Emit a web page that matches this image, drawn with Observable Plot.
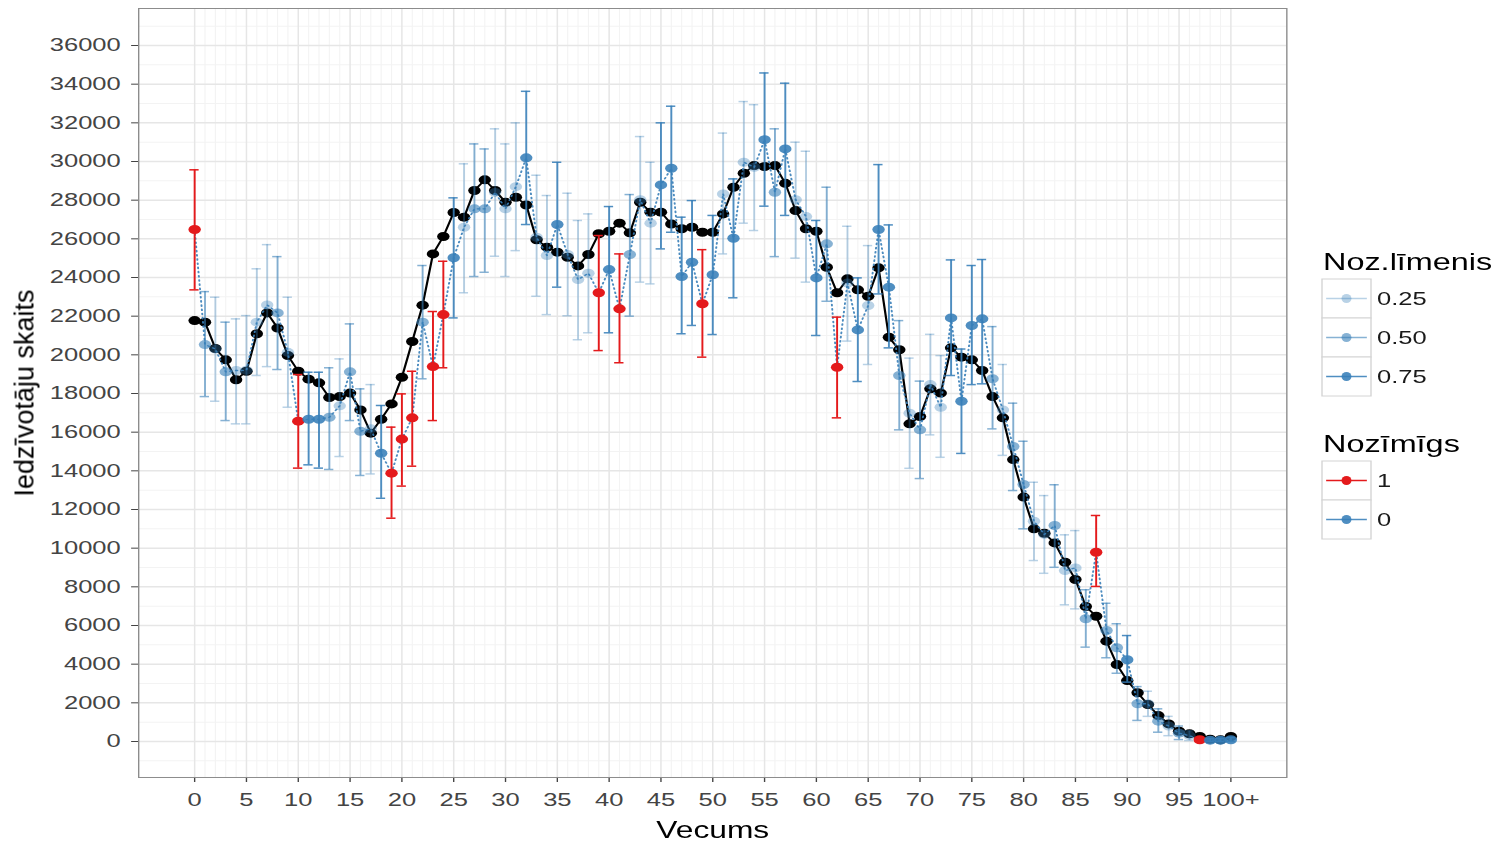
<!DOCTYPE html>
<html>
<head>
<meta charset="utf-8">
<script src="https://cdn.jsdelivr.net/npm/d3@7"></script>
<script src="https://cdn.jsdelivr.net/npm/@observablehq/plot@0.6"></script>
<style>
  html, body { margin: 0; padding: 0; background: white; overflow: hidden; }
  #wrap { position: relative; width: 1509px; height: 844px; }
  #stretch { position: absolute; left: 0; top: 0; height: 844px; transform-origin: 0 0; }
  #ytitle { position: absolute; left: 25px; top: 393px; transform: translate(-50%, -50%) rotate(-90deg);
    font-family: 'Liberation Sans', Arial, sans-serif; font-size: 27px; color: black; white-space: nowrap; }
</style>
</head>
<body>
<div id="wrap">
  <div id="stretch"></div>
  <div id="ytitle">Iedzīvotāju skaits</div>
</div>
<script>
// ---- data ----
const ages = d3.range(0, 101);
const ageTicks = [0,5,10,15,20,25,30,35,40,45,50,55,60,65,70,75,80,85,90,95,100];
const ageTickLabels = ["0","5","10","15","20","25","30","35","40","45","50","55","60","65","70","75","80","85","90","95","100+"];
const yTicks = [0,2000,4000,6000,8000,10000,12000,14000,16000,18000,20000,22000,24000,26000,28000,30000,32000,34000,36000];

const skaits = [
21770,21690,20330,19740,18710,19150,21090,22170,21390,19960,
19150,18740,18550,17790,17840,18020,17150,15950,16670,17460,
18840,20690,22570,25220,26120,27360,27120,28500,29050,28500,
27890,28150,27750,25950,25570,25310,25050,24600,25190,26260,
26390,26810,26310,27890,27380,27380,26770,26520,26600,26340,
26340,27290,28670,29390,29790,29740,29790,28870,27460,26520,
26390,24530,23210,23930,23360,23030,24500,20910,20260,16430,
16810,18240,18020,20360,19880,19740,19190,17840,16740,14580,
12640,11000,10770,10270,9270,8380,6980,6480,5190,3980,
3150,2520,1910,1340,910,530,400,260,120,90,
260];

const novertejums = [
26480,20530,20300,19120,19190,19200,21690,22580,22170,20130,
16570,16670,16670,16770,17360,19120,16050,16170,14910,13880,
15640,16740,21690,19390,22080,25020,26600,27550,27550,28400,
27550,28700,30190,26080,25140,26740,25190,23890,24220,23210,
24410,22380,25190,28020,26810,28790,29650,24050,24790,22640,
24140,28320,26030,29960,29700,31130,28410,30650,28020,27150,
23980,25740,19360,23710,21290,22550,26480,23500,18930,16980,
16120,18460,17290,21910,17600,21520,21860,18760,17150,15260,
13290,11390,10710,11170,8840,8980,6350,9790,5740,4850,
4230,1950,1950,1050,800,430,300,90,70,70,
90];

const apaksa = [
23360,17840,17600,16600,16430,16430,18930,19390,19240,17290,
14140,14310,14140,14070,14740,16600,13760,13840,12580,11550,
13210,14240,18760,16600,19330,21910,23210,24050,24270,25100,
24050,25390,26740,23030,22080,23500,22020,20780,21140,20220,
21140,19590,22000,23760,23670,25480,26340,21090,21520,19880,
21050,25220,22950,26810,26430,27690,25080,27210,25000,23760,
21000,22770,16740,20710,18620,19500,23150,20360,16120,14130,
13600,15860,14700,18930,14900,18460,18500,16170,14800,12980,
11000,9360,8700,9010,7070,6860,4880,8020,4330,3530,
3070,1090,1300,480,300,100,50,0,0,0,
0];

const augsa = [
29570,23270,22980,21690,21860,22030,24450,25700,25080,22980,
18980,19100,19100,19330,19790,21600,18240,18460,17380,16260,
17980,19150,24620,22240,24840,28120,29880,30910,30650,31690,
30910,32000,33630,29290,28240,29960,28360,26950,27290,26170,
27670,25220,28290,31290,29960,32000,32860,27120,27980,25440,
27210,31470,29100,33100,32940,34580,31690,34050,31000,30530,
26950,28670,21950,26650,23980,25650,29840,26720,21770,19830,
18640,21060,19960,24910,20300,24620,24930,21460,19500,17500,
15530,13410,12720,13280,10690,10910,7850,11690,7150,6090,
5480,2840,2600,1690,1300,800,550,200,150,150,
200];

const nozLimenis = [
0.75,0.5,0.25,0.5,0.25,0.25,0.25,0.25,0.5,0.25,
0.75,0.75,0.75,0.5,0.25,0.5,0.5,0.25,0.75,0.75,
0.75,0.75,0.5,0.75,0.75,0.75,0.25,0.5,0.5,0.25,
0.25,0.25,0.75,0.25,0.25,0.75,0.25,0.25,0.25,0.75,
0.75,0.75,0.5,0.25,0.25,0.75,0.75,0.75,0.75,0.75,
0.75,0.25,0.75,0.25,0.25,0.75,0.5,0.75,0.25,0.25,
0.75,0.5,0.75,0.25,0.75,0.25,0.75,0.75,0.5,0.25,
0.5,0.25,0.25,0.75,0.75,0.75,0.75,0.5,0.25,0.5,
0.5,0.25,0.25,0.5,0.25,0.25,0.5,0.75,0.5,0.5,
0.75,0.5,0.25,0.5,0.25,0.5,0.25,0.75,0.75,0.75,
0.75];

const nozimigs = [
1,0,0,0,0,0,0,0,0,0,
1,0,0,0,0,0,0,0,0,1,
1,1,0,1,1,0,0,0,0,0,
0,0,0,0,0,0,0,0,0,1,
0,1,0,0,0,0,0,0,0,1,
0,0,0,0,0,0,0,0,0,0,
0,0,1,0,0,0,0,0,0,0,
0,0,0,0,0,0,0,0,0,0,
0,0,0,0,0,0,0,1,0,0,
0,0,0,0,0,0,0,1,0,0,
0];

// ---- styling helpers ----
const S = 1.38;                 // horizontal stretch of the reference
const W = 1509 / S;
const BLUE = [55,126,184], RED = [228,26,28];
const alphaOf = {0.25: 0.35, 0.5: 0.6, 0.75: 0.88};
function col(sig, lvl) {
  const c = sig ? RED : BLUE;
  const a = sig ? 1 : alphaOf[lvl];
  return `rgba(${c[0]},${c[1]},${c[2]},${a})`;
}

const data = ages.map((a, i) => ({
  age: a, skaits: skaits[i], est: novertejums[i], lo: apaksa[i], hi: augsa[i],
  color: col(nozimigs[i], nozLimenis[i])
}));

const minorX = ages.filter(a => a % 5 !== 0);
const minorY = d3.range(-1000, 38000, 2000);
const capW = 0.45;
const FONT = "'Liberation Sans', Arial, sans-serif";

const chart = Plot.plot({
  width: W, height: 844,
  marginLeft: 100, marginRight: W - 932, marginTop: 8, marginBottom: 67,
  x: {domain: [-5.4, 105.4], ticks: ageTicks, tickFormat: d => ageTickLabels[ageTicks.indexOf(d)],
      tickSize: 5, tickPadding: 10, label: null},
  y: {domain: [-1862, 37914], ticks: yTicks, tickFormat: d => String(d), tickSize: 5, tickPadding: 8, label: null},
  color: {type: "identity"},
  style: {fontFamily: FONT, fontSize: "18.5px", color: "#444", background: "white", overflow: "visible"},
  marks: [
    Plot.ruleX(minorX, {stroke: "#f3f3f3", strokeWidth: 0.8}),
    Plot.ruleY(minorY, {stroke: "#f3f3f3", strokeWidth: 1}),
    Plot.ruleX(ageTicks, {stroke: "#e6e6e6", strokeWidth: 1.1}),
    Plot.ruleY(yTicks, {stroke: "#e6e6e6", strokeWidth: 1.5}),
    Plot.frame({stroke: "#8c8c8c", strokeWidth: 1}),
    // black observed line (below the estimates)
    Plot.line(data, {x: "age", y: "skaits", stroke: "black", strokeWidth: 1.6}),
    Plot.dot(data, {x: "age", y: "skaits", r: 4.5, fill: "black"}),
    // dotted path through estimates
    Plot.line(data, {x: "age", y: "est", stroke: "#377EB8", strokeWidth: 1.4, strokeDasharray: "1.2,3", strokeOpacity: 0.9}),
    // error bars
    Plot.ruleX(data, {x: "age", y1: "lo", y2: "hi", stroke: "color", strokeWidth: 1.4}),
    Plot.ruleY(data, {y: "hi", x1: d => d.age - capW, x2: d => d.age + capW, stroke: "color", strokeWidth: 1.5}),
    Plot.ruleY(data, {y: "lo", x1: d => d.age - capW, x2: d => d.age + capW, stroke: "color", strokeWidth: 1.5}),
    Plot.dot(data, {x: "age", y: "est", r: 4.5, fill: "color"}),
    Plot.text(["Vecums"], {frameAnchor: "bottom", lineAnchor: "middle", dy: 53, fontSize: 23, fill: "black"})
  ]
});

const stretch = document.getElementById("stretch");
stretch.style.width = W + "px";
stretch.style.transform = `scaleX(${S})`;
stretch.appendChild(chart);

// ---- legend (in the same stretched frame) ----
const lg = d3.select(stretch).append("svg")
  .attr("width", W).attr("height", 844)
  .style("position", "absolute").style("left", 0).style("top", 0)
  .style("font-family", FONT);

const kx = 1322 / S, kw = 49 / S, kh = 39;
const lx = 1377 / S;
function key(y, rgba) {
  lg.append("rect").attr("x", kx).attr("y", y).attr("width", kw).attr("height", kh)
    .attr("fill", "white").attr("stroke", "#d4d4d4").attr("stroke-width", 1);
  lg.append("line").attr("x1", kx + 3).attr("x2", kx + kw - 3).attr("y1", y + kh/2).attr("y2", y + kh/2)
    .attr("stroke", rgba).attr("stroke-width", 1.3);
  lg.append("ellipse").attr("cx", kx + kw/2).attr("cy", y + kh/2).attr("rx", 3.6).attr("ry", 4.6).attr("fill", rgba);
}
function label(y, t) {
  lg.append("text").attr("x", lx).attr("y", y + kh/2 + 6.6).attr("font-size", 18.5).attr("fill", "#1a1a1a").text(t);
}
lg.append("text").attr("x", 1323 / S).attr("y", 270).attr("font-size", 23.5).attr("fill", "black").text("Noz.līmenis");
[[0.25, "0.25"], [0.5, "0.50"], [0.75, "0.75"]].forEach(([lv, t], i) => {
  const y = 279 + i * kh;
  key(y, col(0, lv));
  label(y, t);
});
lg.append("text").attr("x", 1323 / S).attr("y", 452).attr("font-size", 23.5).attr("fill", "black").text("Nozīmīgs");
[[1, "1"], [0, "0"]].forEach(([s, t], i) => {
  const y = 461 + i * kh;
  key(y, s ? col(1, 0.75) : col(0, 0.75));
  label(y, t);
});
</script>
</body>
</html>
